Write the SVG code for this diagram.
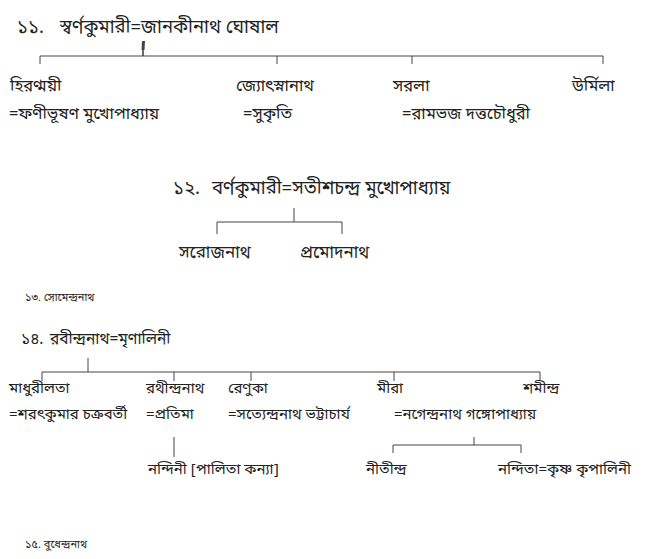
<svg xmlns="http://www.w3.org/2000/svg" width="652" height="559" viewBox="0 0 652 559">
<style>
text{font-family:"Noto Sans Bengali","Noto Serif Bengali","Lohit Bengali","Noto Sans",sans-serif;fill:#222;font-size:15px}
.h{font-size:18.5px}
.m{font-size:16.5px}
.k{font-size:17px}
.t{font-size:15.5px}
.s{font-size:11px}
.c line{stroke:#444;stroke-width:1}
</style>
<rect width="652" height="559" fill="#fff"/>
<g id="n11"><text class="h" x="17" y="33">১১.<tspan x="60">স্বর্ণকুমারী=জানকীনাথ ঘোষাল</tspan></text></g>
<g id="n11a"><text class="m" x="10" y="91">হিরণ্ময়ী</text><text class="m" x="9" y="119">=ফণীভূষণ মুখোপাধ্যায়</text></g>
<g id="n11b"><text class="m" x="236" y="91">জ্যোৎস্নানাথ</text><text class="m" x="243" y="119">=সুকৃতি</text></g>
<g id="n11c"><text class="m" x="393" y="91">সরলা</text><text class="m" x="402" y="119">=রামভজ দত্তচৌধুরী</text></g>
<g id="n11d"><text class="m" x="572" y="91">উর্মিলা</text></g>
<g id="n12"><text class="h" x="173" y="194">১২.<tspan x="212">বর্ণকুমারী=সতীশচন্দ্র মুখোপাধ্যায়</tspan></text></g>
<g id="n12a"><text class="k" x="179" y="258">সরোজনাথ</text></g>
<g id="n12b"><text class="k" x="300" y="258">প্রমোদনাথ</text></g>
<g id="n13"><text class="s" x="25" y="301">১৩. সোমেন্দ্রনাথ</text></g>
<g id="n14"><text class="t" x="21" y="344">১৪.<tspan x="50">রবীন্দ্রনাথ=মৃণালিনী</tspan></text></g>
<g id="n14a"><text x="9" y="393">মাধুরীলতা</text><text x="9" y="419">=শরৎকুমার চক্রবর্তী</text></g>
<g id="n14b"><text x="146" y="393">রথীন্দ্রনাথ</text><text x="146" y="419">=প্রতিমা</text></g>
<g id="n14b1"><text x="148" y="474">নন্দিনী [পালিতা কন্যা]</text></g>
<g id="n14c"><text x="228" y="393">রেণুকা</text><text x="228" y="419">=সত্যেন্দ্রনাথ ভট্টাচার্য</text></g>
<g id="n14d"><text x="377" y="393">মীরা</text><text x="394" y="419">=নগেন্দ্রনাথ গঙ্গোপাধ্যায়</text></g>
<g id="n14d1"><text x="366" y="474">নীতীন্দ্র</text></g>
<g id="n14d2"><text x="498" y="474">নন্দিতা=কৃষ্ণ কৃপালিনী</text></g>
<g id="n14e"><text x="523" y="393">শমীন্দ্র</text></g>
<g id="n15"><text class="s" x="25" y="548">১৫. বুধেন্দ্রনাথ</text></g>
<g id="connectors" class="c">
<line x1="143.5" y1="41" x2="143" y2="50" style="stroke-width:3"/>
<line x1="143" y1="49" x2="143" y2="56" style="stroke-width:1.6"/>
<line x1="40" y1="56" x2="603" y2="56"/>
<line x1="40" y1="56" x2="40" y2="64"/>
<line x1="277" y1="56" x2="277" y2="64"/>
<line x1="412" y1="56" x2="412" y2="64"/>
<line x1="603" y1="56" x2="603" y2="64"/>
<line x1="294" y1="208" x2="294" y2="222"/>
<line x1="217" y1="222" x2="342" y2="222"/>
<line x1="217" y1="222" x2="217" y2="234"/>
<line x1="342" y1="222" x2="342" y2="234"/>
<line x1="88" y1="358" x2="88" y2="372"/>
<line x1="42" y1="372" x2="540" y2="372"/>
<line x1="42" y1="372" x2="42" y2="381"/>
<line x1="174" y1="372" x2="174" y2="381"/>
<line x1="251" y1="372" x2="251" y2="381"/>
<line x1="394" y1="372" x2="394" y2="381"/>
<line x1="540" y1="372" x2="540" y2="381"/>
<line x1="174" y1="437" x2="174" y2="457"/>
<line x1="474" y1="437" x2="474" y2="445"/>
<line x1="393" y1="445" x2="521" y2="445"/>
<line x1="393" y1="445" x2="393" y2="453"/>
<line x1="521" y1="445" x2="521" y2="453"/>
</g>
</svg>
